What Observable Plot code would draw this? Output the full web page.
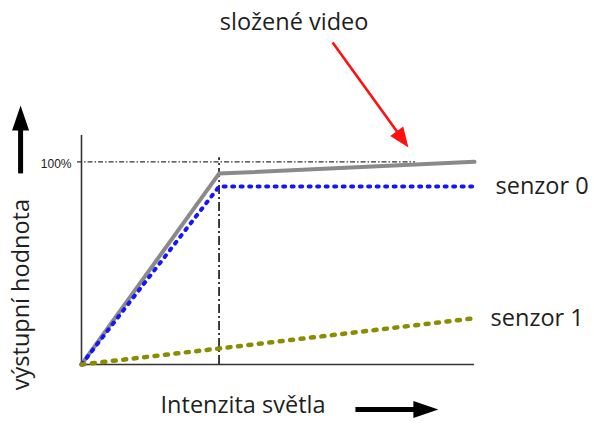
<!DOCTYPE html>
<html>
<head>
<meta charset="utf-8">
<script src="https://cdn.jsdelivr.net/npm/d3@7"></script>
<script src="https://cdn.jsdelivr.net/npm/@observablehq/plot@0.6"></script>
<style>
  html, body { margin: 0; padding: 0; background: #fff; }
  #chart svg { display: block; }
</style>
</head>
<body>
<div id="chart"></div>
<script>
// Light intensity (relative units) at the breakpoints of the response curves
const intensity = [0, 35, 100];
// Output value (% of full scale) for each curve
const slozeneVideo = [0, 94.2, 100];
const senzor0 = [0, 87.8, 87.8];
const senzor1 = [0, 7.9, 22.6];
const seriesNames = ["složené video", "senzor 0", "senzor 1"];
const fullScaleLabel = "100%";
const xLabel = "Intenzita světla";
const yLabel = "výstupní hodnota";

const rows = [
  ...intensity.map((x, i) => ({series: seriesNames[0], x, y: slozeneVideo[i]})),
  ...intensity.map((x, i) => ({series: seriesNames[1], x, y: senzor0[i]})),
  ...intensity.map((x, i) => ({series: seriesNames[2], x: i === 2 ? 99 : x, y: senzor1[i]}))
];
const bySeries = name => rows.filter(d => d.series === name);
const last = name => bySeries(name).at(-1);

// Filled arrowhead with its tip at the origin, pointing up
function arrowhead(ratio) {
  return {
    draw(ctx, size) {
      const L = Math.sqrt(size / Math.PI);
      const w = L * ratio;
      ctx.moveTo(0, 0);
      ctx.lineTo(w, L);
      ctx.lineTo(-w, L);
      ctx.closePath();
    }
  };
}
const blackHead = arrowhead(0.34);
const redHead = arrowhead(0.4);

const textColor = "#1e1e1e";
const font = 23.5;

const chart = Plot.plot({
  width: 594,
  height: 424,
  marginLeft: 81,
  marginRight: 120,
  marginTop: 135,
  marginBottom: 60,
  x: {domain: [0, 100], axis: null},
  y: {domain: [0, 113], axis: null},
  style: {fontFamily: "'Open Sans', sans-serif", background: "#fff", overflow: "visible"},
  marks: [
    // full-scale reference line and saturation point
    Plot.ruleY([100], {x1: -1, x2: 85, stroke: "#333", strokeWidth: 1.3, strokeDasharray: "5,2,1.5,2"}),
    Plot.ruleX([35], {y1: 0, y2: 102, stroke: "#2a2a2a", strokeWidth: 1.8, strokeDasharray: "9,3,2,3"}),
    // axes
    Plot.ruleX([0], {y1: 0, y2: 113, stroke: "#333", strokeWidth: 1.6}),
    Plot.ruleY([0], {x1: 0, x2: 100, stroke: "#333", strokeWidth: 1.6}),
    Plot.text([fullScaleLabel], {x: 0, y: 100, dx: -10, dy: 2, textAnchor: "end", fontSize: 12, letterSpacing: -0.3, fill: "#222", fontFamily: "'Liberation Sans', sans-serif"}),
    // response curves
    Plot.line(bySeries(seriesNames[0]), {x: "x", y: "y", stroke: "#8a8a8a", strokeWidth: 4}),
    Plot.line(bySeries(seriesNames[1]), {x: "x", y: "y", stroke: "#1414ff", strokeWidth: 4, strokeDasharray: "2,6.5", strokeLinecap: "round"}),
    Plot.line(bySeries(seriesNames[2]), {x: "x", y: "y", stroke: "#8c8c00", strokeWidth: 4.5, strokeDasharray: "3,7.5", strokeLinecap: "round"}),
    // curve labels
    Plot.text([last(seriesNames[1])], {x: "x", y: "y", dx: 21, text: () => seriesNames[1], textAnchor: "start", fontSize: font, fill: textColor}),
    Plot.text([last(seriesNames[2])], {x: "x", y: "y", dx: 20, text: () => seriesNames[2], textAnchor: "start", fontSize: font, fill: textColor}),
    Plot.text([seriesNames[0]], {x: 54.1, y: 168.8, fontSize: font, fill: textColor}),
    // red pointer to the composite curve
    Plot.link([0], {x1: 63.9, y1: 158.9, x2: 81.2, y2: 112.5, stroke: "#ff1010", strokeWidth: 2.6}),
    Plot.dot([0], {x: 83.2, y: 107.1, r: 20, symbol: redHead, fill: "#ff1010", stroke: "none", rotate: 144}),
    // axis titles with arrows
    Plot.text([xLabel], {x: 41.1, y: -20.2, fontSize: font, fill: textColor}),
    Plot.link([0], {x1: 69.7, y1: -22.2, x2: 86, y2: -22.2, stroke: "#000", strokeWidth: 5}),
    Plot.dot([0], {x: 90.8, y: -22.2, r: 25, symbol: blackHead, fill: "#000", stroke: "none", rotate: 90}),
    Plot.text([yLabel], {x: -15.3, y: 34.5, rotate: -90, fontSize: font, fill: textColor}),
    Plot.link([0], {x1: -15.5, y1: 94.3, x2: -15.5, y2: 117, stroke: "#000", strokeWidth: 5}),
    Plot.dot([0], {x: -15.5, y: 127.8, r: 25, symbol: blackHead, fill: "#000", stroke: "none"})
  ]
});

document.getElementById("chart").append(chart);
</script>
</body>
</html>
